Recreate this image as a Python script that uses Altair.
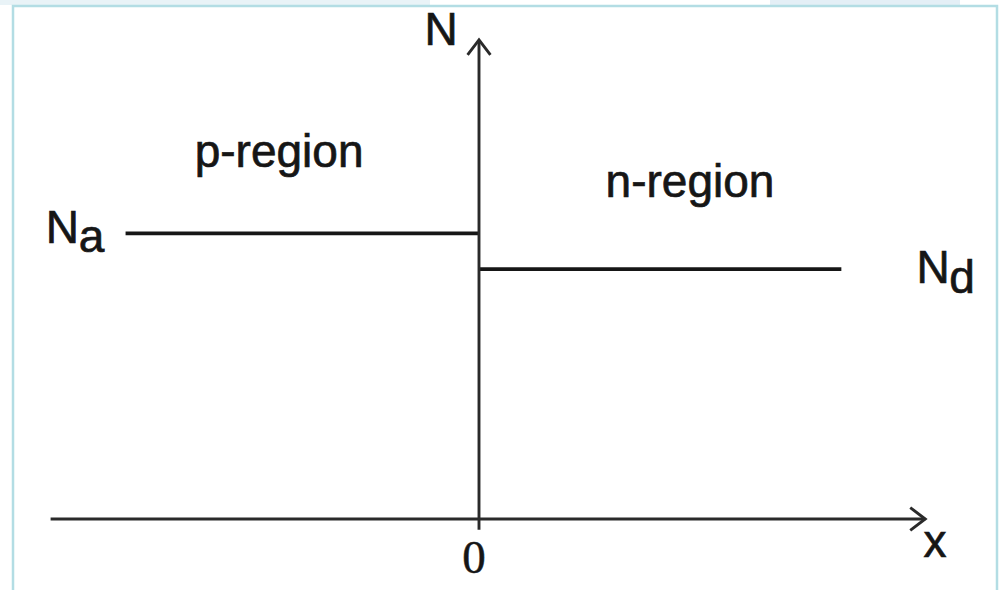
import altair as alt
import pandas as pd

# Abrupt p-n junction: acceptor level Na on the p side, donor level Nd on the n side
# (arbitrary units; junction at x = 0)
Na = 8.0
Nd = 7.0
p_side_x = [-9.9, 0.0]
n_side_x = [0.0, 10.15]

# Coordinate axes with open arrowheads
x_axis_x = [-12.0, 12.5]
y_axis_y = [-0.3, 13.42]
arrow_len = 0.42
arrow_half = 0.32

# Text labels (anchor = centre of the glyphs, on the baseline)
label_text = ["N", "N", "a", "N", "d", "p-region", "n-region", "x"]
label_x = [-1.06, -11.67, -10.85, 12.72, 13.53, -5.60, 5.91, 12.77]
label_y = [13.28, 7.73, 7.48, 6.61, 6.33, 9.86, 9.02, -1.06]
origin_text = ["0"]
origin_x = [-0.14]
origin_y = [-1.51]

# Drawing scale: units per pixel and the pixel position of the origin
PX = 35.7
W, H = 1001, 590
OX, OY = 479, 519
x_dom = [-OX / PX, (W - OX) / PX]
y_dom = [(OY - H) / PX, OY / PX]

xs = alt.Scale(domain=x_dom, nice=False, zero=False)
ys = alt.Scale(domain=y_dom, nice=False, zero=False)
INK = "#161616"

profile = pd.DataFrame({
    "x": p_side_x + n_side_x,
    "N": [Na, Na, Nd, Nd],
    "side": ["p", "p", "n", "n"],
})
profile_lines = alt.Chart(profile).mark_line(color=INK, strokeWidth=3.8).encode(
    x=alt.X("x:Q", scale=xs, axis=None),
    y=alt.Y("N:Q", scale=ys, axis=None),
    detail="side:N",
)

axes_df = pd.DataFrame({
    "x": [x_axis_x[0], 0.0],
    "x2": [x_axis_x[1], 0.0],
    "y": [0.0, y_axis_y[0]],
    "y2": [0.0, y_axis_y[1]],
})
axes_rules = alt.Chart(axes_df).mark_rule(color="#2a2a2a", strokeWidth=2.9).encode(
    x=alt.X("x:Q", scale=xs, axis=None),
    x2="x2:Q",
    y=alt.Y("y:Q", scale=ys, axis=None),
    y2="y2:Q",
)

xe, ye = x_axis_x[1], y_axis_y[1]
heads = pd.DataFrame({
    "x": [xe - arrow_len, xe, xe - arrow_len, -arrow_half, 0.0, arrow_half],
    "y": [arrow_half, 0.0, -arrow_half, ye - arrow_len, ye, ye - arrow_len],
    "order": [0, 1, 2, 0, 1, 2],
    "head": ["x", "x", "x", "y", "y", "y"],
})
arrow_heads = alt.Chart(heads).mark_line(color="#2a2a2a", strokeWidth=2.9, strokeJoin="miter").encode(
    x=alt.X("x:Q", scale=xs, axis=None),
    y=alt.Y("y:Q", scale=ys, axis=None),
    order="order:Q",
    detail="head:N",
)

labels = pd.DataFrame({"t": label_text, "x": label_x, "y": label_y})
label_marks = alt.Chart(labels).mark_text(
    align="center", baseline="alphabetic", fontSize=46,
    font="Liberation Sans", color=INK, stroke=INK, strokeWidth=0.7,
).encode(
    x=alt.X("x:Q", scale=xs, axis=None),
    y=alt.Y("y:Q", scale=ys, axis=None),
    text="t:N",
)

origin = pd.DataFrame({"t": origin_text, "x": origin_x, "y": origin_y})
origin_mark = alt.Chart(origin).mark_text(
    align="center", baseline="alphabetic", fontSize=47,
    font="Liberation Serif", color=INK, stroke=INK, strokeWidth=0.5,
).encode(
    x=alt.X("x:Q", scale=xs, axis=None),
    y=alt.Y("y:Q", scale=ys, axis=None),
    text="t:N",
)

# Light frame around the figure
frame = alt.Chart(pd.DataFrame({"k": [0]})).mark_rect(
    fill="transparent", stroke="#b3dde4", strokeWidth=2.5,
).encode(
    x=alt.value(13), x2=alt.value(997), y=alt.value(6), y2=alt.value(H + 10),
)
tint = alt.Chart(pd.DataFrame({"k": [0]})).mark_rect(fill="#e9f3f7").encode(
    x=alt.value(0), x2=alt.value(430), y=alt.value(0), y2=alt.value(5),
)
tint2 = alt.Chart(pd.DataFrame({"k": [0]})).mark_rect(fill="#e4eff6").encode(
    x=alt.value(770), x2=alt.value(960), y=alt.value(0), y2=alt.value(5),
)

chart = alt.layer(
    tint, tint2, frame, profile_lines, axes_rules, arrow_heads, label_marks, origin_mark
).properties(
    width=W, height=H, padding=0,
    autosize=alt.AutoSizeParams(type="none"),
    background="white",
).configure_view(stroke="transparent")

chart.save("out.html", embed_options={"renderer": "svg", "actions": False})
